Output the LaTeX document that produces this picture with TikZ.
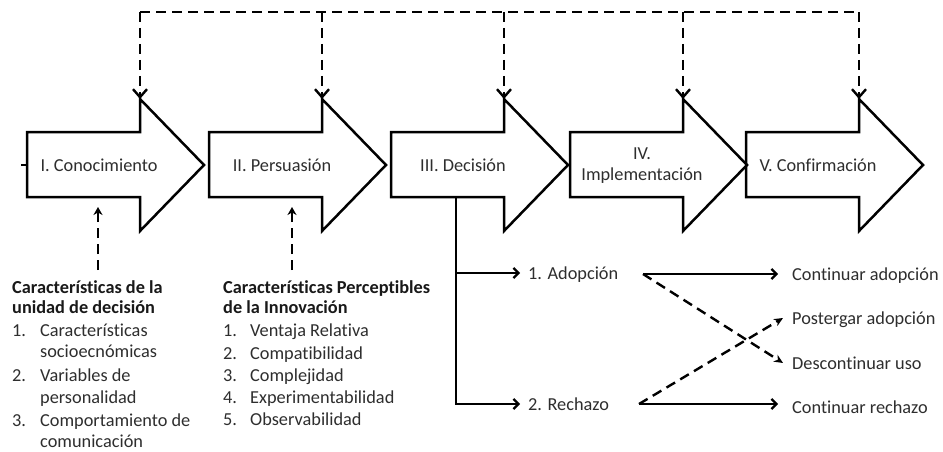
\documentclass[tikz,border=0pt]{standalone}
\usepackage{fontspec}
\setmainfont{Carlito}[Ligatures=NoCommon]
\usetikzlibrary{arrows.meta}
\begin{document}
\begin{tikzpicture}[x=1pt,y=-1pt,
  outline/.style={line width=2.5pt,line join=miter},
  dsh/.style={line width=2.4pt,dash pattern=on 10pt off 6pt},
  conn/.style={line width=2.2pt},
  txt/.style={inner sep=0pt,text=black!82,font=\fontsize{18.3}{21}\selectfont},
  lbl/.style={txt,text height=13pt,text depth=1pt,anchor=west},
  hdr/.style={lbl,text=black!90,font=\fontsize{18.3}{21}\selectfont\bfseries},
  barb/.style={-{Straight Barb[length=5pt,width=10pt]}},
  vbarb/.style={-{Straight Barb[length=8pt,width=14pt]}},
  upsharp/.style={-{Stealth[length=8pt,width=9pt,inset=2.5pt]}},
  sharp/.style={-{Stealth[length=9pt,width=8pt]}}]
\useasboundingbox (0,0) rectangle (943,452);
\fill[white] (0,0) rectangle (943,452);

% the five stage arrows
\foreach \L/\n in {27/1,209/2,391/3,570/4,746/5}{
  \draw[outline] (\L,132) -- (\L+113,132) -- (\L+113,99) -- (\L+177,165)
     -- (\L+113,231) -- (\L+113,197) -- (\L,197) -- cycle;
  \coordinate (top\n) at (\L+113,99);
  \coordinate (ov\n) at (\L+113,12);
}
\coordinate (tick) at (21,165);
\draw[outline] (tick) -- ++(6,0);

\node[txt,text height=13pt,text depth=1pt] (s1) at (99,165) {I. Conocimiento};
\node[txt,text height=13pt,text depth=1pt] (s2) at (282,165) {II. Persuasión};
\node[txt,text height=13pt,text depth=1pt] (s3) at (463,165) {III. Decisión};
\node[txt,align=center] (s4) at (642,166) {IV.\\Implementación};
\node[txt,text height=13pt,text depth=1pt] (s5) at (818,165) {V. Confirmación};

% feedback loop along the top
\draw[dsh,vbarb] (ov1) -- (top1);
\draw[dsh] (ov1) -- (ov5);
\foreach \n in {2,3,4,5} \draw[dsh,vbarb] (ov\n) -- (top\n);

% characteristics feeding the first two stages
\node[hdr] (h1a) at (12,287) {Características de la};
\node[hdr] (h1b) at (12,307) {unidad de decisión};
\node[lbl] (p1) at (12,330) {\makebox[28pt][l]{1.}Características};
\node[lbl] (p1b) at (40,351) {socioecnómicas};
\node[lbl] (p2) at (12,375) {\makebox[28pt][l]{2.}Variables de};
\node[lbl] (p2b) at (40,397) {personalidad};
\node[lbl] (p3) at (12,420) {\makebox[28pt][l]{3.}Comportamiento de};
\node[lbl] (p3b) at (40,441) {comunicación};

\node[hdr] (h2a) at (223,287) {Características Perceptibles};
\node[hdr] (h2b) at (223,307) {de la Innovación};
\node[lbl] (q1) at (223,330) {\makebox[27pt][l]{1.}Ventaja Relativa};
\node[lbl] (q2) at (223,353) {\makebox[27pt][l]{2.}Compatibilidad};
\node[lbl] (q3) at (223,375) {\makebox[27pt][l]{3.}Complejidad};
\node[lbl] (q4) at (223,397) {\makebox[27pt][l]{4.}Experimentabilidad};
\node[lbl] (q5) at (223,419) {\makebox[27pt][l]{5.}Observabilidad};

\coordinate (d1) at (98,270);
\coordinate (u1) at (98,207);
\coordinate (d2) at (292,270);
\coordinate (u2) at (292,207);
\draw[dsh,upsharp] (d1) -- (u1);
\draw[dsh,upsharp] (d2) -- (u2);

% decision branches
\node[lbl] (adop) at (528,273) {1. Adopción};
\node[lbl] (rech) at (528,404) {2. Rechazo};
\coordinate (dstart) at (456,197);
\draw[conn,barb,shorten >=8pt] (dstart) |- (rech.west);
\draw[conn,barb,shorten >=8pt] (dstart |- adop.west) -- (adop.west);

% outcomes
\node[lbl] (ca) at (792,274) {Continuar adopción};
\node[lbl] (pa) at (792,318) {Postergar adopción};
\node[lbl] (du) at (792,363) {Descontinuar uso};
\node[lbl] (cr) at (792,407) {Continuar rechazo};
\coordinate (aout) at (643,274);
\coordinate (rout) at (639,404);
\draw[conn,barb] (aout) -- ([xshift=-14pt]ca.west);
\draw[conn,barb] (rout) -- ([xshift=-14pt]rout -| cr.west);
\draw[dsh,sharp] (aout) -- ([xshift=-9pt]du.west);
\draw[dsh,sharp] (rout) -- ([xshift=-9pt]pa.west);
\end{tikzpicture}
\end{document}
